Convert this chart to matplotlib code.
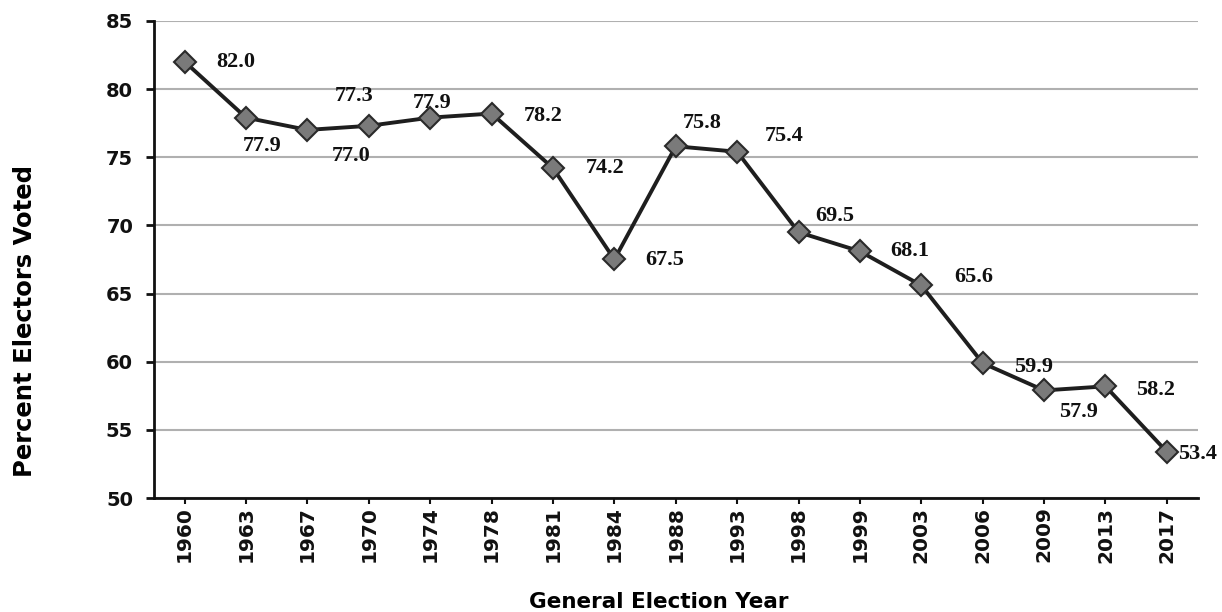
import matplotlib
matplotlib.use('Agg')
import matplotlib.pyplot as plt

# Turnout data
years = ['1960', '1963', '1967', '1970', '1974', '1978', '1981', '1984', '1988',
         '1993', '1998', '1999', '2003', '2006', '2009', '2013', '2017']
turnout = [82.0, 77.9, 77.0, 77.3, 77.9, 78.2, 74.2, 67.5, 75.8,
           75.4, 69.5, 68.1, 65.6, 59.9, 57.9, 58.2, 53.4]

# label offsets in pixels (dx, dy) from each point
label_offsets = [(51, 0), (16, -28), (44, -26), (-15, 30), (2, 15), (52, -2),
                 (52, 0), (50, -1), (26, 23), (47, 16), (36, 16), (50, 0),
                 (52, 8), (51, -4), (34, -22), (50, -4), (31, -2)]

fig = plt.figure(figsize=(12.22, 6.12), dpi=100)
ax = fig.add_axes([0.126, 0.186, 0.854, 0.780])

x = list(range(len(years)))
ax.plot(x, turnout, color='#1e1e1e', linewidth=2.8, marker='D', markersize=11,
        markerfacecolor='#7a7a7a', markeredgecolor='#2a2a2a', markeredgewidth=1.5,
        zorder=3)

for xi, v, (dx, dy) in zip(x, turnout, label_offsets):
    ax.annotate(f'{v:.1f}', (xi, v), xytext=(dx, dy), textcoords='offset pixels',
                ha='center', va='center', fontsize=16, fontweight='bold',
                family='Liberation Serif', color='#111111')

ax.set_xlim(-0.5, len(years) - 0.5)
ax.set_ylim(50, 85)
ax.set_yticks(range(50, 90, 5))
ax.set_xticks(x)
ax.set_xticklabels(years, rotation=90)

# grid lines
ax.yaxis.grid(True, color='#b0b0b0', linewidth=1.5)
ax.set_axisbelow(True)

for side in ['top', 'right']:
    ax.spines[side].set_visible(False)
ax.spines['left'].set_linewidth(2.0)
ax.spines['bottom'].set_linewidth(2.0)
ax.spines['left'].set_color('#111111')
ax.spines['bottom'].set_color('#111111')

ax.tick_params(axis='y', length=6, width=2, pad=9, labelsize=14, colors='#111111')
ax.tick_params(axis='x', length=4, width=1.5, pad=2, labelsize=14.5, colors='#111111')
for lab in ax.get_yticklabels() + ax.get_xticklabels():
    lab.set_family('DejaVu Sans')
    lab.set_fontweight('bold')

ax.set_xlabel('General Election Year', fontsize=15.5, fontweight='bold', family='DejaVu Sans')
ax.set_ylabel('Percent Electors Voted', fontsize=17.5, fontweight='bold', family='DejaVu Sans')
ax.xaxis.set_label_coords(0.484, -0.197)
ax.yaxis.set_label_coords(-0.112, 0.371)

fig.savefig('out.png', dpi=100, facecolor='white')
